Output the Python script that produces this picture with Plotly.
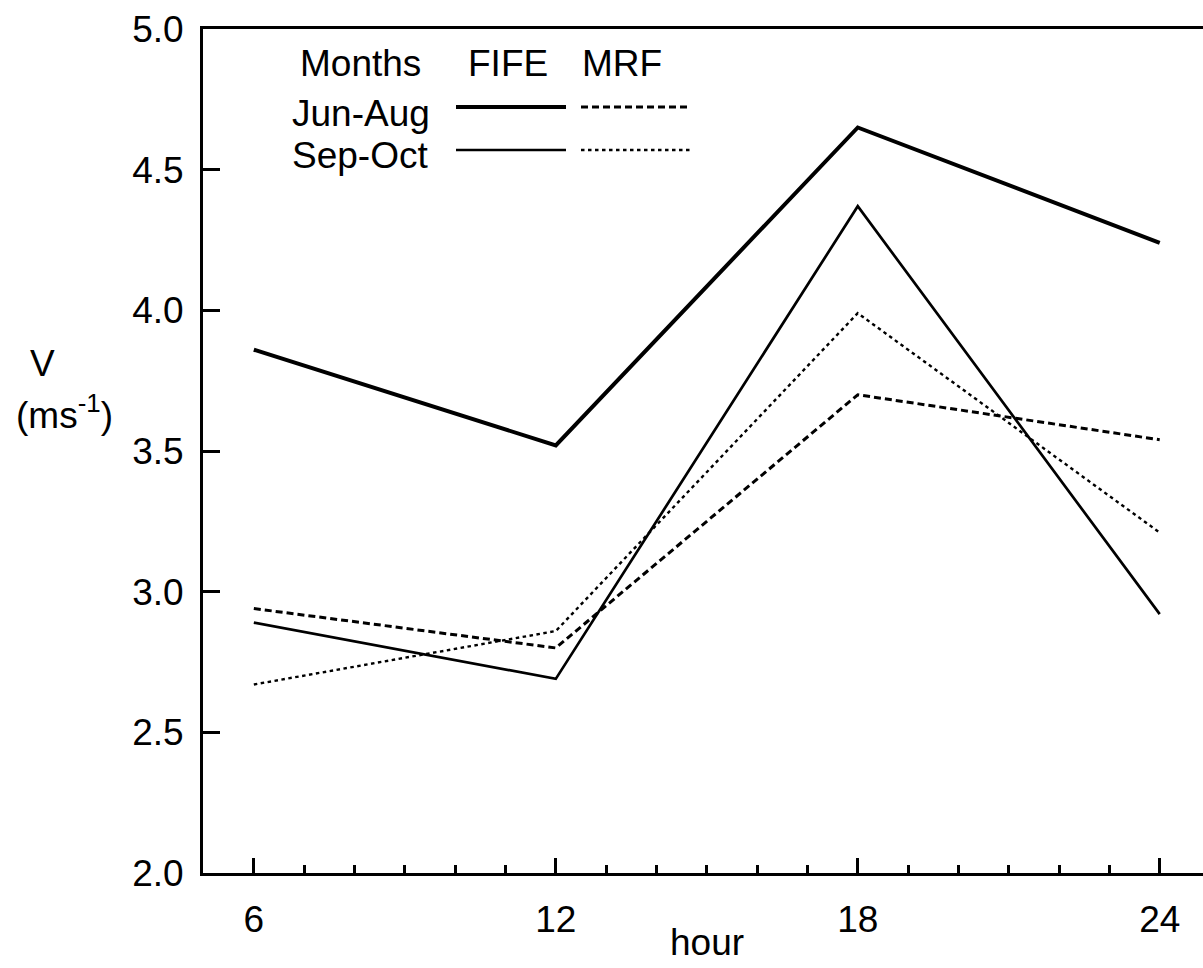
import plotly.graph_objects as go

# Mean wind speed by hour of day
hours = [6, 12, 18, 24]
fife_jun_aug = [3.86, 3.52, 4.65, 4.24]
fife_sep_oct = [2.89, 2.69, 4.37, 2.92]
mrf_jun_aug = [2.94, 2.80, 3.70, 3.54]
mrf_sep_oct = [2.67, 2.86, 3.99, 3.21]

x_ticks = [6, 12, 18, 24]
y_ticks = [2.0, 2.5, 3.0, 3.5, 4.0, 4.5, 5.0]

W, H = 1203, 968
ML, MR, MT, MB = 203, 0, 29, 95
PW, PH = W - ML - MR, H - MT - MB

FONT = "Liberation Sans, Arial, Helvetica, sans-serif"
INK = "black"
FS = 37


def px(xp):
    return (xp - ML) / PW


def py(yp):
    return (H - MB - yp) / PH


series = [
    (fife_jun_aug, dict(color=INK, width=4.0, dash="solid")),
    (fife_sep_oct, dict(color=INK, width=2.7, dash="solid")),
    (mrf_jun_aug, dict(color=INK, width=3.0, dash="7px,4px")),
    (mrf_sep_oct, dict(color=INK, width=2.4, dash="3.5px,3.5px")),
]

fig = go.Figure()
for vals, line in series:
    fig.add_trace(go.Scatter(x=hours, y=vals, mode="lines", line=line,
                             showlegend=False, hoverinfo="skip"))

# Legend block: column headers, row labels and sample strokes
legend_rows = [("Jun-Aug", 107, series[0][1], series[2][1]),
               ("Sep-Oct", 150, series[1][1], series[3][1])]
annotations = [
    dict(text="Months", x=px(298), y=py(64), xanchor="left"),
    dict(text="FIFE", x=px(508), y=py(64), xanchor="center"),
    dict(text="MRF", x=px(580), y=py(64), xanchor="left"),
]
shapes = []
for label, yrow, solid, broken in legend_rows:
    annotations.append(dict(text=label, x=px(290), y=py(yrow + 6), xanchor="left"))
    shapes.append(dict(type="line", xref="paper", yref="paper",
                       x0=px(456), x1=px(566), y0=py(yrow), y1=py(yrow),
                       line=dict(color=INK, width=solid["width"], dash=solid["dash"])))
    shapes.append(dict(type="line", xref="paper", yref="paper",
                       x0=px(581), x1=px(690), y0=py(yrow), y1=py(yrow),
                       line=dict(color=INK, width=broken["width"], dash=broken["dash"])))

# Axis titles
annotations += [
    dict(text="V", x=px(42), y=py(364), xanchor="center"),
    dict(text="(ms<sup>-1</sup>)", x=px(64), y=py(412), xanchor="center"),
    dict(text="hour", x=px(707), y=py(942), xanchor="center"),
]
for a in annotations:
    a.update(xref="paper", yref="paper", yanchor="middle", showarrow=False,
             font=dict(family=FONT, size=FS, color=INK))

fig.update_layout(
    width=W, height=H,
    margin=dict(l=ML, r=MR, t=MT, b=MB),
    paper_bgcolor="white", plot_bgcolor="white",
    annotations=annotations, shapes=shapes,
    showlegend=False,
)
fig.update_xaxes(
    range=[4.99, 24.86], tickvals=x_ticks, ticktext=[str(v) for v in x_ticks],
    ticks="inside", ticklen=15, tickwidth=3, tickcolor=INK,
    minor=dict(ticks="inside", ticklen=8, tickwidth=3, tickcolor=INK, dtick=1, tick0=0),
    showline=True, linewidth=3, linecolor=INK, mirror=True,
    showgrid=False, zeroline=False, ticklabelstandoff=12,
    tickfont=dict(family=FONT, size=FS, color=INK),
)
fig.update_yaxes(
    range=[2.0, 5.0], tickvals=y_ticks, ticktext=[f"{v:.1f}" for v in y_ticks],
    ticks="inside", ticklen=17, tickwidth=3, tickcolor=INK,
    showline=True, linewidth=3, linecolor=INK,
    showgrid=False, zeroline=False, ticklabelstandoff=9,
    tickfont=dict(family=FONT, size=FS, color=INK),
)

fig.write_html("out.html")
